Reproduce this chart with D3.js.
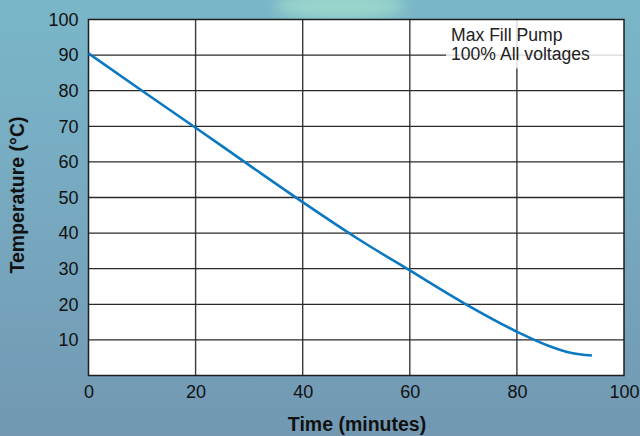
<!DOCTYPE html>
<html>
<head>
<meta charset="utf-8">
<script src="https://cdn.jsdelivr.net/npm/d3@7"></script>
<style>
  body { margin: 0; }
  svg { display: block; font-family: "Liberation Sans", Arial, sans-serif; }
</style>
</head>
<body>
<div id="chart"></div>
<script>
'use strict';
// Cooling curve, max fill pump
const minutes = [0, 10, 20, 30, 40, 50, 60, 70, 80, 86, 90, 94];
const temps = [90.5, 80.0, 69.6, 59.1, 48.7, 38.7, 29.5, 20.4, 12.3, 8.3, 6.4, 5.6];
const xTicks = [0, 20, 40, 60, 80, 100];
const yTicks = [10, 20, 30, 40, 50, 60, 70, 80, 90, 100];
const note = ['Max Fill Pump', '100% All voltages'];

const w = 640, h = 436;
const m = { top: 19.5, right: 16, bottom: 60.5, left: 88.5 };

const svg = d3.select('#chart').append('svg')
  .attr('width', w)
  .attr('height', h);

// background
const defs = svg.append('defs');
const bg = defs.append('linearGradient').attr('id', 'bg')
  .attr('x1', 0).attr('y1', 0).attr('x2', 0).attr('y2', 1);
bg.append('stop').attr('offset', '0%').attr('stop-color', '#7ab6c8');
bg.append('stop').attr('offset', '45%').attr('stop-color', '#77aac1');
bg.append('stop').attr('offset', '100%').attr('stop-color', '#7298b2');
const blur = defs.append('filter').attr('id', 'blur')
  .attr('x', '-50%').attr('y', '-50%').attr('width', '200%').attr('height', '200%');
blur.append('feGaussianBlur').attr('stdDeviation', 7);

svg.append('rect').attr('width', w).attr('height', h).attr('fill', 'url(#bg)');
svg.append('ellipse')
  .attr('cx', 340).attr('cy', 6).attr('rx', 65).attr('ry', 14)
  .attr('fill', '#9ed9cc').attr('opacity', 0.9)
  .attr('filter', 'url(#blur)');

const x = d3.scaleLinear().domain([0, 100]).range([m.left, w - m.right]);
const y = d3.scaleLinear().domain([0, 100]).range([h - m.bottom, m.top]);

// plot area
svg.append('rect')
  .attr('x', x(0)).attr('y', y(100))
  .attr('width', x(100) - x(0)).attr('height', y(0) - y(100))
  .attr('fill', '#fff');

// grid lines
svg.append('g').selectAll('line')
  .data(xTicks.slice(1, -1))
  .enter().append('line')
  .attr('x1', d => x(d)).attr('x2', d => x(d))
  .attr('y1', y(100)).attr('y2', y(0))
  .attr('stroke', '#3a3a3a')
  .attr('stroke-width', 1.4);

svg.append('g').selectAll('line')
  .data(yTicks.slice(0, -1))
  .enter().append('line')
  .attr('x1', x(0)).attr('x2', x(100))
  .attr('y1', d => y(d)).attr('y2', d => y(d))
  .attr('stroke', '#2a2a2a')
  .attr('stroke-width', 1.3);

// note box, lets the grid show through faintly
svg.append('rect')
  .attr('x', 446).attr('y', y(100))
  .attr('width', x(100) - 446).attr('height', 49)
  .attr('fill', '#fff').attr('opacity', 0.82);

svg.append('g').selectAll('text')
  .data(note)
  .enter().append('text')
  .attr('x', 451)
  .attr('y', (d, i) => 41 + i * 19)
  .attr('font-size', 17.6)
  .attr('fill', '#222')
  .text(d => d);

// border
svg.append('rect')
  .attr('x', x(0)).attr('y', y(100))
  .attr('width', x(100) - x(0)).attr('height', y(0) - y(100))
  .attr('fill', 'none')
  .attr('stroke', '#1e1e1e')
  .attr('stroke-width', 1.5);

// the curve
const line = d3.line()
  .x((d, i) => x(minutes[i]))
  .y(d => y(d))
  .curve(d3.curveMonotoneX);

svg.append('path')
  .datum(temps)
  .attr('d', line)
  .attr('fill', 'none')
  .attr('stroke', '#0b78c2')
  .attr('stroke-width', 2.6);

// axes
const xAxis = svg.append('g')
  .attr('transform', `translate(0,${y(0)})`)
  .call(d3.axisBottom(x).tickValues(xTicks).tickSize(0).tickPadding(10));
xAxis.select('.domain').remove();
xAxis.selectAll('text')
  .attr('font-size', 18)
  .attr('fill', '#111')
  .attr('font-family', '"Liberation Sans", Arial, sans-serif');

const yAxis = svg.append('g')
  .attr('transform', `translate(${x(0)},0)`)
  .call(d3.axisLeft(y).tickValues(yTicks).tickSize(0).tickPadding(10));
yAxis.select('.domain').remove();
yAxis.selectAll('text')
  .attr('font-size', 18)
  .attr('fill', '#111')
  .attr('font-family', '"Liberation Sans", Arial, sans-serif');

// titles
svg.append('text')
  .attr('x', 357)
  .attr('y', 431)
  .attr('text-anchor', 'middle')
  .attr('font-size', 19.5)
  .attr('font-weight', 'bold')
  .attr('fill', '#111')
  .text('Time (minutes)');

svg.append('text')
  .attr('transform', 'translate(24,195) rotate(-90)')
  .attr('text-anchor', 'middle')
  .attr('font-size', 19.5)
  .attr('font-weight', 'bold')
  .attr('fill', '#111')
  .text('Temperature (°C)');
</script>
</body>
</html>
